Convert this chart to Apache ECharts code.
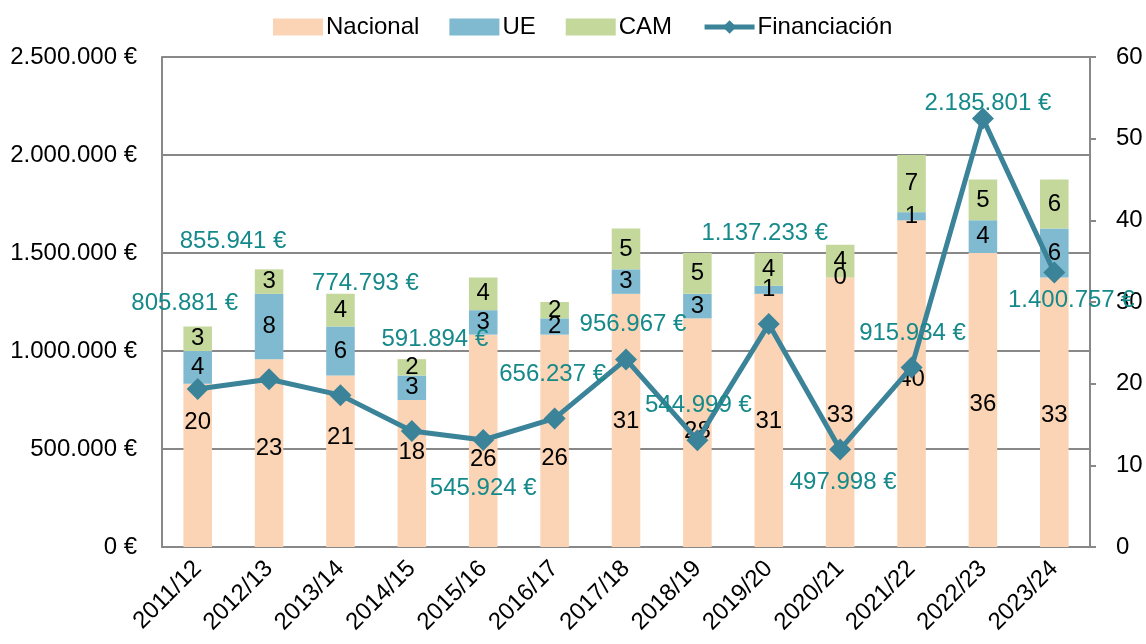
<!DOCTYPE html>
<html><head><meta charset="utf-8">
<script src="https://cdn.jsdelivr.net/npm/echarts@6/dist/echarts.min.js"></script>
<style>html,body{margin:0;padding:0;background:#fff}#c{width:1146px;height:644px}</style>
</head><body><div id="c"></div>
<script>
const categories = ['2011/12','2012/13','2013/14','2014/15','2015/16','2016/17','2017/18','2018/19','2019/20','2020/21','2021/22','2022/23','2023/24'];
const nacional = [20,23,21,18,26,26,31,28,31,33,40,36,33];
const ue = [4,8,6,3,3,2,3,3,1,0,1,4,6];
const cam = [3,3,4,2,4,2,5,5,4,4,7,5,6];
const financiacion = [805881,855941,774793,591894,545924,656237,956967,544999,1137233,497998,915934,2185801,1400757];
const leftTicks = [0,500000,1000000,1500000,2000000,2500000];
const rightTicks = [0,10,20,30,40,50,60];

// layout: label offsets (px) for line labels and national bar labels
const lineLabelOffsets = [[-13,-86],[-36,-138],[25,-112],[23,-92],[0,48],[-2,-44],[7,-35],[1,-35],[-4,-91],[3,33],[1,-34],[5,-15],[17,28]];
const nacLabelOffsets = [-43,-5,-24,-21,19,18,1,-1,1,3,-4,4,3];

const FONT = 'Liberation Sans';
const FS = 24;
const fmtEur = v => v.toString().replace(/\B(?=(\d{3})+(?!\d))/g,'.') + ' €';

const chart = echarts.init(document.getElementById('c'));
const barLabel = {show:true, position:'inside', color:'#000', fontSize:FS, fontFamily:FONT};
chart.setOption({
  animation:false,
  textStyle:{fontFamily:FONT},
  legend:{
    top:10, left:268, itemWidth:50, itemHeight:17, itemGap:30,
    textStyle:{fontSize:FS, color:'#000', fontFamily:FONT, padding:[0,0,0,-2]},
    data:[
      {name:'Nacional', icon:'rect'},
      {name:'UE', icon:'rect'},
      {name:'CAM', icon:'rect'},
      {name:'Financiación', lineStyle:{width:5, color:'#3b8399'}, itemStyle:{color:'#3b8399'}}
    ]
  },
  grid:{left:162, right:56, top:57, bottom:97, containLabel:false},
  xAxis:{
    type:'category', data:categories,
    axisLine:{show:true, lineStyle:{color:'#888', width:2}},
    axisTick:{show:false},
    axisLabel:{rotate:45, fontSize:FS, color:'#000', fontFamily:FONT, margin:18, interval:0}
  },
  yAxis:[
    {type:'value', min:0, max:2500000, interval:500000, position:'left',
     axisLine:{show:true, lineStyle:{color:'#888', width:2}},
     axisTick:{show:false},
     splitLine:{show:true, lineStyle:{color:'#888', width:2}},
     axisLabel:{fontSize:FS, color:'#000', fontFamily:FONT, margin:25, formatter:v=>leftTicks.includes(v)?fmtEur(v):''}
    },
    {type:'value', min:0, max:60, interval:10, position:'right',
     axisLine:{show:true, lineStyle:{color:'#888', width:2}},
     axisTick:{show:true, inside:false, length:6, lineStyle:{color:'#888', width:2}},
     splitLine:{show:false},
     axisLabel:{fontSize:FS, color:'#000', fontFamily:FONT, margin:26, formatter:v=>rightTicks.includes(v)?String(v):''}
    }
  ],
  series:[
    {name:'Nacional', type:'bar', stack:'s', yAxisIndex:1, barWidth:'40%',
     itemStyle:{color:'#fad4b4'},
     data:nacional.map((v,i)=>({value:v, label:{offset:[0,nacLabelOffsets[i]]}})),
     label:barLabel},
    {name:'UE', type:'bar', stack:'s', yAxisIndex:1, barWidth:'40%',
     itemStyle:{color:'#7fbad0'}, data:ue, label:barLabel},
    {name:'CAM', type:'bar', stack:'s', yAxisIndex:1, barWidth:'40%',
     itemStyle:{color:'#c4d89b'}, data:cam, label:barLabel},
    {name:'Financiación', type:'line', yAxisIndex:0, z:5,
     symbol:'diamond', symbolSize:22,
     lineStyle:{color:'#3b8399', width:5},
     itemStyle:{color:'#3b8399'},
     data:financiacion.map((v,i)=>({value:v, label:{offset:lineLabelOffsets[i]}})),
     label:{show:true, position:'inside', color:'#16898a', fontSize:FS, fontFamily:FONT, formatter:p=>fmtEur(p.value)}
    }
  ]
});
</script></body></html>
